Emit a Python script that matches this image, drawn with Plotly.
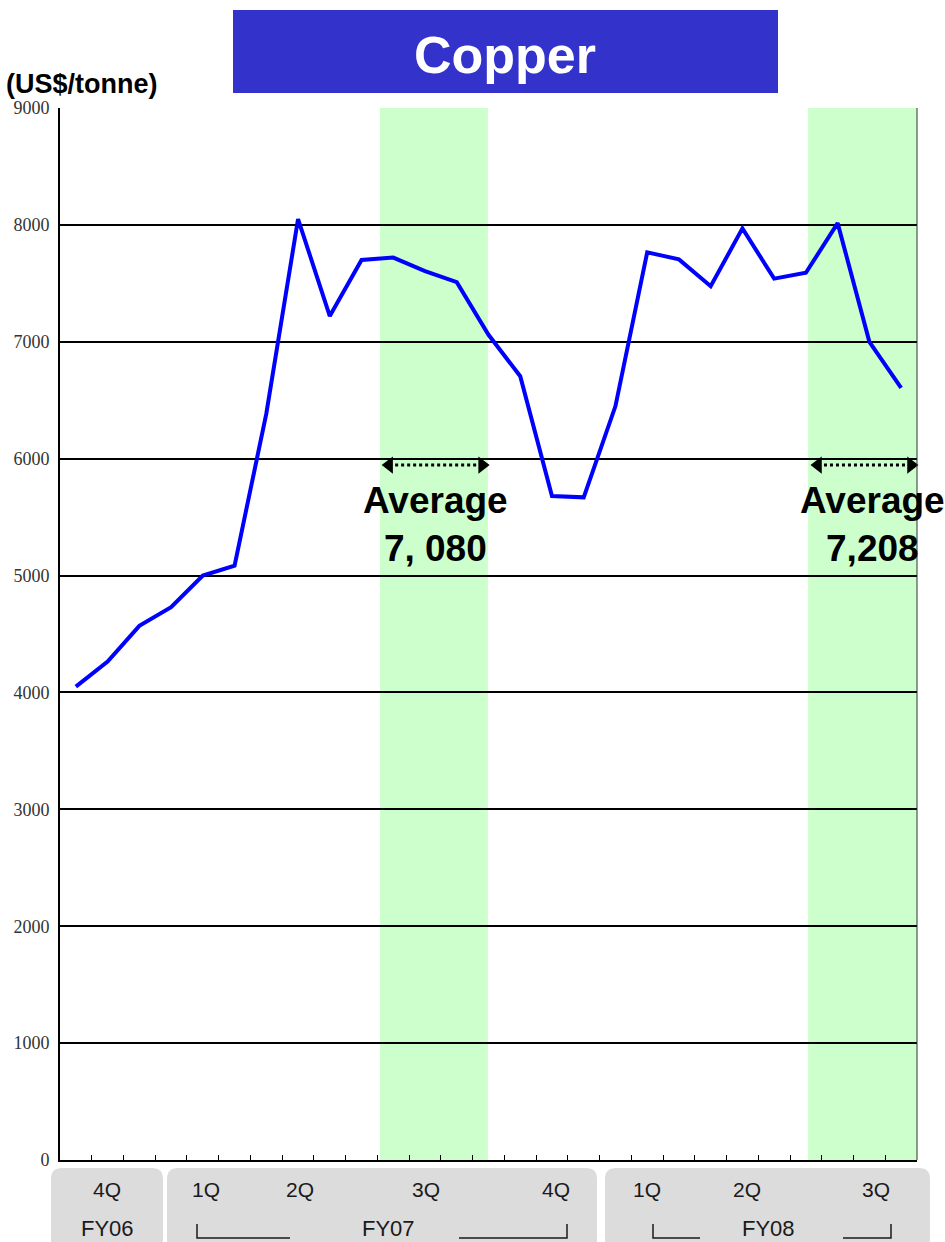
import plotly.graph_objects as go

# ---------------- data ----------------
months = ["2005-10", "2005-11", "2005-12", "2006-01", "2006-02", "2006-03",
          "2006-04", "2006-05", "2006-06", "2006-07", "2006-08", "2006-09",
          "2006-10", "2006-11", "2006-12", "2007-01", "2007-02", "2007-03",
          "2007-04", "2007-05", "2007-06", "2007-07", "2007-08", "2007-09",
          "2007-10", "2007-11", "2007-12"]
copper_price = [4050, 4265, 4570, 4730, 5000, 5085, 6385, 8050, 7220, 7700,
                7720, 7605, 7510, 7060, 6705, 5680, 5669, 6450, 7765, 7705,
                7475, 7970, 7540, 7590, 8015, 7000, 6605]
y_ticks = [0, 1000, 2000, 3000, 4000, 5000, 6000, 7000, 8000, 9000]
quarter_labels = ["4Q", "1Q", "2Q", "3Q", "4Q", "1Q", "2Q", "3Q"]
fy_labels = ["FY06", "FY07", "FY08"]
average_labels = ["Average<br>7, 080", "Average<br>7,208"]
title_text = "Copper"
unit_text = "(US$/tonne)"

# ---------------- geometry helpers ----------------
W, H = 945, 1242
L, R, T, B = 60, 917, 108, 1160


def px(x):
    return (x - L) / (R - L)


def py(y):
    return (B - y) / (B - T)


n = len(copper_price)
xs = list(range(n))

fig = go.Figure()
fig.add_trace(go.Scatter(x=xs, y=copper_price, mode="lines",
                         line=dict(color="#0000FF", width=4),
                         hoverinfo="text", text=months, showlegend=False))

# highlighted bands
bands = [(9.58, 12.98), (23.07, 26.5)]
for x0, x1 in bands:
    fig.add_shape(type="rect", xref="x", yref="y", x0=x0, x1=x1, y0=0, y1=9000,
                  fillcolor="#CCFFCC", line=dict(width=0), layer="below")

# dotted double arrows
arrow_y = 5945
arrows = [(9.87, 12.80), (23.38, 26.31)]
for a0, a1 in arrows:
    fig.add_shape(type="line", xref="x", yref="y", x0=a0, x1=a1, y0=arrow_y, y1=arrow_y,
                  line=dict(color="black", width=3, dash="dot"))
    fig.add_trace(go.Scatter(x=[a0, a1], y=[arrow_y, arrow_y], mode="markers",
                             marker=dict(symbol=["triangle-left", "triangle-right"],
                                         size=15, color="black"),
                             hoverinfo="skip", showlegend=False, cliponaxis=False))

# average texts
for cx, label in zip([435, 872], average_labels):
    fig.add_annotation(xref="paper", yref="paper", x=px(cx), y=py(524),
                       text="<b>" + label + "</b>", showarrow=False,
                       font=dict(family="Liberation Sans, Arial", size=37, color="black"),
                       xanchor="center", yanchor="middle", align="center")

# title box
fig.add_shape(type="rect", xref="paper", yref="paper", x0=px(233), x1=px(778),
              y0=py(93), y1=py(10), fillcolor="#3333CC", line=dict(width=0))
fig.add_annotation(xref="paper", yref="paper", x=px(505), y=py(55), text="<b>" + title_text + "</b>",
                   showarrow=False, font=dict(family="Liberation Sans, Arial", size=52, color="white"),
                   xanchor="center", yanchor="middle")

# unit label
fig.add_annotation(xref="paper", yref="paper", x=px(4), y=py(84), text="<b>" + unit_text + "</b>",
                   showarrow=False, font=dict(family="Liberation Sans, Arial", size=27, color="black"),
                   xanchor="left", yanchor="middle")


# rounded boxes at bottom
def rounded_box(x0, x1, y0, y1, r=11):
    rx = r / (R - L)
    ry = r / (B - T)
    X0, X1 = px(x0), px(x1)
    Yt, Yb = py(y0), py(y1)
    p = (f"M {X0 + rx},{Yt} L {X1 - rx},{Yt} Q {X1},{Yt} {X1},{Yt - ry} "
         f"L {X1},{Yb + ry} Q {X1},{Yb} {X1 - rx},{Yb} L {X0 + rx},{Yb} "
         f"Q {X0},{Yb} {X0},{Yb + ry} L {X0},{Yt - ry} Q {X0},{Yt} {X0 + rx},{Yt} Z")
    return p


for x0, x1 in [(51, 163), (167, 597), (605, 930)]:
    fig.add_shape(type="path", xref="paper", yref="paper", path=rounded_box(x0, x1, 1168, 1250),
                  fillcolor="#DCDCDC", line=dict(width=0), layer="below")

quarter_x = [107, 206, 300, 426, 556, 647, 747, 876]
for qx, ql in zip(quarter_x, quarter_labels):
    fig.add_annotation(xref="paper", yref="paper", x=px(qx), y=py(1189), text=ql, showarrow=False,
                       font=dict(family="Liberation Sans, Arial", size=21, color="#1a1a1a"),
                       xanchor="center", yanchor="middle")
fy_x = [107, 388, 768]
for fx, fl in zip(fy_x, fy_labels):
    fig.add_annotation(xref="paper", yref="paper", x=px(fx), y=py(1228), text=fl, showarrow=False,
                       font=dict(family="Liberation Sans, Arial", size=22, color="#1a1a1a"),
                       xanchor="center", yanchor="middle")

# brackets
brackets = [(197, 290, "left"), (459, 567, "right"), (653, 700, "left"), (843, 891, "right")]
for b0, b1, side in brackets:
    if side == "left":
        path = f"M {px(b0)},{py(1224)} L {px(b0)},{py(1238)} L {px(b1)},{py(1238)}"
    else:
        path = f"M {px(b0)},{py(1238)} L {px(b1)},{py(1238)} L {px(b1)},{py(1224)}"
    fig.add_shape(type="path", xref="paper", yref="paper", path=path,
                  line=dict(color="#1a1a1a", width=1.5))

fig.update_xaxes(range=[-0.5, n - 0.5], showgrid=False, zeroline=False,
                 showline=True, linecolor="black", linewidth=2, mirror=False,
                 tickmode="array", tickvals=[k - 0.5 for k in range(1, n)],
                 ticks="inside", ticklen=5, tickwidth=1, tickcolor="black",
                 showticklabels=False)
fig.update_yaxes(range=[0, 9000], tickmode="array", tickvals=y_ticks,
                 showgrid=True, gridcolor="black", gridwidth=1.5, zeroline=False,
                 showline=True, linecolor="black", linewidth=2, mirror=False,
                 ticks="", ticklabelstandoff=5,
                 tickfont=dict(family="Liberation Serif, Times New Roman", size=18, color="#333333"))

# right border
fig.add_shape(type="line", xref="paper", yref="paper", x0=1, x1=1, y0=0, y1=1,
              line=dict(color="#333333", width=1))

fig.update_layout(width=W, height=H, margin=dict(l=L, r=W - R, t=T, b=H - B),
                  paper_bgcolor="white", plot_bgcolor="white", showlegend=False)

fig.write_html("out.html", config={"displayModeBar": False},
               post_script="document.body.style.margin='0';")
